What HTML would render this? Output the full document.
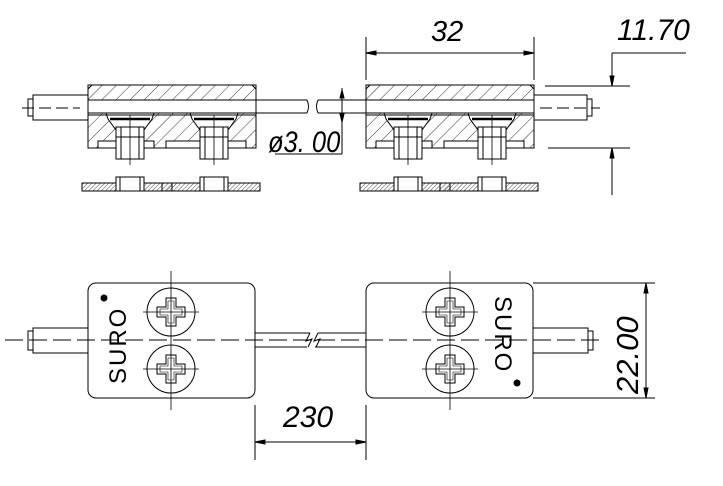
<!DOCTYPE html>
<html><head><meta charset="utf-8"><style>
html,body{margin:0;padding:0;background:#fff;}
svg{display:block;}
text{font-family:"Liberation Sans",sans-serif;font-style:italic;fill:#000;}
text.n{font-style:normal;}
</style></head><body>
<svg width="723" height="486" viewBox="0 0 723 486" xmlns="http://www.w3.org/2000/svg" fill="none" stroke="#000" stroke-width="1">
<defs>
<pattern id="h" width="10" height="10" patternUnits="userSpaceOnUse" patternTransform="rotate(45)">
<line x1="0" y1="0" x2="0" y2="10" stroke="#000" stroke-width="0.8"/></pattern>
<pattern id="hs" width="3" height="3" patternUnits="userSpaceOnUse" patternTransform="rotate(45)">
<line x1="0" y1="0" x2="0" y2="3" stroke="#000" stroke-width="0.7"/></pattern>
<g id="sec">
<path d="M4 0 H164 L168 4 V15 H0 V4 Z" fill="url(#h)"/>
<rect x="0" y="15" width="168" height="13" fill="#fff"/>
<path d="M0 28 H168 V63 H0 Z" fill="url(#h)"/>
<path d="M18 28 L20 34 L28 45 V60 H56 V45 L64 34 L66 28 Z" fill="#fff"/>
<path d="M102 28 L104 34 L112 45 V60 H140 V45 L148 34 L150 28 Z" fill="#fff"/>
<rect x="10" y="56" width="56" height="7" fill="#fff"/>
<rect x="78" y="56" width="44" height="7" fill="#fff"/>
<rect x="134" y="56" width="24" height="7" fill="#fff"/>
<rect x="0" y="0" width="168" height="63" fill="none"/>
<line x1="0" y1="30" x2="168" y2="30"/>
<path d="M22 34 H62 M106 34 H146" stroke-width="2.5"/>
<rect x="28" y="42" width="28" height="32" fill="#fff"/>
<rect x="112" y="42" width="28" height="32" fill="#fff"/>
<path d="M33 42 V74 M51 42 V74 M117 42 V74 M135 42 V74 M28 52 H56 M112 52 H140"/>
<path d="M42 30 V80 M126 30 V80" stroke-width="0.8"/>
<rect x="-6" y="98" width="178" height="8" fill="url(#hs)"/>
<rect x="-6" y="98" width="178" height="8"/>
<rect x="28" y="92" width="28" height="14" fill="#fff"/>
<rect x="112" y="92" width="28" height="14" fill="#fff"/>
<rect x="32" y="92" width="20" height="14"/><rect x="116" y="92" width="20" height="14"/>
<rect x="74" y="98" width="10" height="8" fill="url(#h)"/>
</g>
<g id="scr">
<circle r="24"/>
<path d="M-5 -14 H5 V-5 H14 V5 H5 V14 H-5 V5 H-14 V-5 H-5 Z"/>
<path d="M-3 -11 H3 V-3 H11 V3 H3 V11 H-3 V3 H-11 V-3 H-3 Z" stroke-width="0.6"/>
<path d="M-28 0 H28" stroke-width="0.8"/>
</g>
</defs>

<use href="#sec" x="88" y="85"/>
<use href="#sec" x="366" y="85"/>
<rect x="33" y="95" width="55" height="25"/><rect x="28" y="99" width="5" height="17"/>
<rect x="534" y="95" width="53" height="25"/><rect x="587" y="99" width="5" height="17"/>
<line x1="22" y1="108" x2="80" y2="108" stroke-dasharray="12,5"/>
<line x1="540" y1="108" x2="600" y2="108" stroke-dasharray="12,5"/>
<path d="M256 100 H307 M256 113 H307 M318 100 H366 M318 113 H366"/>
<path d="M307 100 q3 6 0 13 M318 100 q-3 6 0 13"/>
<path d="M342 88 V154 M275 154 H342"/>
<path d="M342 90 l-2 8 h4 z M342 122 l-2 -8 h4 z" fill="#000"/>
<text x="268" y="152" font-size="30" stroke="none" transform="translate(268 152) scale(0.85 1) translate(-268 -152)">ø3. 00</text>
<path d="M366 37 V80 M534 37 V80 M366 53 H534"/>
<path d="M366 53 l10 -2 v4 z M534 53 l-10 -2 v4 z" fill="#000"/>
<text x="431" y="41" font-size="29" stroke="none">32</text>
<text x="617" y="40" font-size="30" stroke="none">11.70</text>
<path d="M612 53 H686 M612 53 V86 M545 86 H630 M548 148 H630 M612 148 V195"/>
<path d="M612 86 l-2 -10 h4 z M612 148 l-2 10 h4 z" fill="#000"/>

<line x1="5" y1="340" x2="605" y2="340" stroke-dasharray="18,6"/>
<rect x="88" y="283" width="167" height="115" rx="8"/>
<rect x="366" y="283" width="167" height="115" rx="8"/>
<rect x="33" y="328" width="55" height="25" fill="none"/><rect x="28" y="331" width="5" height="19"/>
<rect x="533" y="328" width="55" height="25"/><rect x="588" y="331" width="5" height="19"/>
<path d="M255 333 H310 M255 347 H307 M318 333 H366 M315 347 H366 M310 333 l-4 8 l6 -2 l-4 8 M318 333 l-4 8 l6 -2 l-4 8"/>
<use href="#scr" x="171" y="312"/><use href="#scr" x="171" y="369"/>
<use href="#scr" x="450" y="312"/><use href="#scr" x="450" y="369"/>
<path d="M171 271 V410 M450 271 V410" stroke-width="0.8"/>
<text class="n" x="0" y="0" font-size="24" stroke="none" transform="translate(126 384) rotate(-90)" letter-spacing="2">SURO</text>
<circle cx="104" cy="298" r="3" fill="#000"/>
<text class="n" x="0" y="0" font-size="24" stroke="none" transform="translate(495 296) rotate(90)" letter-spacing="2">SURO</text>
<circle cx="517" cy="383" r="3" fill="#000"/>
<path d="M533 283 H655 M533 398 H655 M646 283 V398"/>
<path d="M646 283 l-2 10 h4 z M646 398 l-2 -10 h4 z" fill="#000"/>
<text x="0" y="0" font-size="31" stroke="none" transform="translate(638 394) rotate(-90)">22.00</text>
<path d="M255 405 V460 M366 405 V460 M255 442 H366"/>
<path d="M255 442 l10 -2 v4 z M366 442 l-10 -2 v4 z" fill="#000"/>
<text x="283" y="427" font-size="30" stroke="none">230</text>
</svg>
</body></html>
